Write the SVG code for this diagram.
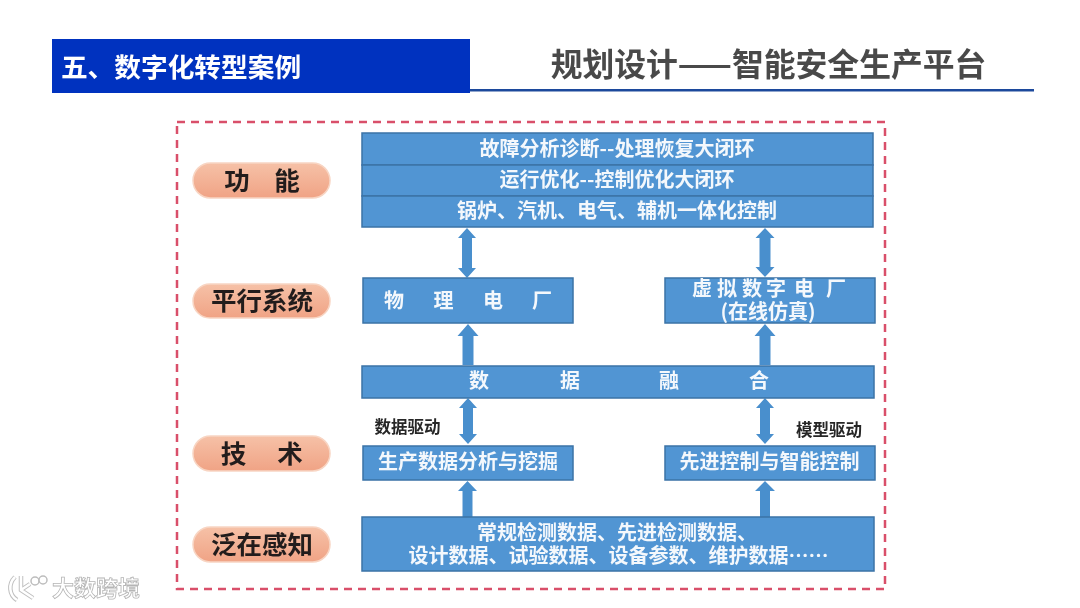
<svg xmlns="http://www.w3.org/2000/svg" width="1080" height="608" viewBox="0 0 1080 608">
<defs>
<linearGradient id="pill" x1="0" y1="0" x2="0" y2="1"><stop offset="0" stop-color="#f6c1a7"/><stop offset="1" stop-color="#f0a385"/></linearGradient>
<filter id="soft" x="0" y="0" width="100%" height="100%" filterUnits="userSpaceOnUse"><feGaussianBlur stdDeviation="0.45"/></filter>
</defs>
<style>
text{font-family:"Noto Sans CJK SC","Noto Sans",sans-serif;text-anchor:middle}
.box{fill:#5195d3;stroke:#3b73a6;stroke-width:1.500}
.w{fill:#f4f8fc;font-size:20px;font-weight:700}
.pill{fill:url(#pill);stroke:#f8d5c3;stroke-width:1.500}
.p{fill:#241f1d;font-size:25.500px;font-weight:700}
.a{fill:#4a8fcd;stroke:none}
.k{fill:#262626;font-size:16.500px;font-weight:700}
</style>
<rect width="1080" height="608" fill="#fff"/>
<g filter="url(#soft)">
<g id="header">
<rect x="52" y="39" width="418" height="54" fill="#0433bf"/>
<rect x="470" y="89" width="564" height="2.500" fill="#1f4a9c"/>
<text x="181" y="77" style="font-size:26.700px;font-weight:700;fill:#fff">五、数字化转型案例</text>
<text x="768.500" y="76" style="font-size:31.800px;font-weight:700;fill:#4a4a4a">规划设计——智能安全生产平台</text>
</g>
<rect id="frame" x="177" y="122" width="708" height="467" fill="none" stroke="#d9506a" stroke-width="2.500" stroke-dasharray="8 6"/>
<g id="connectors">
<path id="c1" class="a" d="M467 228L476 238H472V268H476L467 278L458 268H462V238H458Z"/>
<path id="c2" class="a" d="M765 228L774.500 238H770.500V267H774.500L765 277L755.500 267H759.500V238H755.500Z"/>
<path id="c3" class="a" d="M468 324L478.500 336H473.500V365H462.500V336H457.500Z"/>
<path id="c4" class="a" d="M765 324L775.500 336H770.500V365H759.500V336H754.500Z"/>
<path id="c5" class="a" d="M468 398L477 408H473V434H477L468 444L459 434H463V408H459Z"/>
<path id="c6" class="a" d="M765 398L774 408H770V434H774L765 444L756 434H760V408H756Z"/>
<path id="c7" class="a" d="M467.500 481L477 491H472.500V517H462.500V491H458Z"/>
<path id="c8" class="a" d="M765 481L775 491H770V517H760V491H755Z"/>
</g>
<g id="n-func1"><rect class="box" x="362" y="133" width="511" height="32"/><text class="w" x="617" y="155.500">故障分析诊断--处理恢复大闭环</text></g>
<g id="n-func2"><rect class="box" x="362" y="165" width="511" height="31"/><text class="w" x="617" y="187">运行优化--控制优化大闭环</text></g>
<g id="n-func3"><rect class="box" x="362" y="196" width="511" height="31"/><text class="w" x="617" y="218">锅炉、汽机、电气、辅机一体化控制</text></g>
<g id="n-phys"><rect class="box" x="363" y="278" width="210" height="45"/><text class="w" x="394 443.500 493 542" y="308">物理电厂</text></g>
<g id="n-virt"><rect class="box" x="665" y="278" width="210" height="45"/><text class="w" x="702 727 752 776 804 836" y="296">虚拟数字电厂</text><text class="w" x="768" y="319">(在线仿真)</text></g>
<g id="n-fuse"><rect class="box" x="362" y="366" width="512" height="32"/><text class="w" x="479 570 669 759" y="388">数据融合</text></g>
<g id="n-mine"><rect class="box" x="363" y="446" width="210" height="34"/><text class="w" x="468" y="469">生产数据分析与挖掘</text></g>
<g id="n-ctrl"><rect class="box" x="665" y="446" width="210" height="34"/><text class="w" x="769.500" y="469">先进控制与智能控制</text></g>
<g id="n-sense"><rect class="box" x="362" y="517" width="512" height="54"/><text class="w" x="617" y="540">常规检测数据、先进检测数据、</text><text class="w" x="618.500" y="563">设计数据、试验数据、设备参数、维护数据……</text></g>
<g id="p-func"><rect class="pill" x="193" y="163" width="137" height="35" rx="17.500"/><text class="p" x="237 287" y="190">功能</text></g>
<g id="p-para"><rect class="pill" x="193" y="284" width="137" height="34" rx="17"/><text class="p" x="262" y="310">平行系统</text></g>
<g id="p-tech"><rect class="pill" x="193" y="436" width="137" height="35" rx="17.500"/><text class="p" x="233.500 290" y="463">技术</text></g>
<g id="p-sense"><rect class="pill" x="193" y="527" width="137" height="35" rx="17.500"/><text class="p" x="262" y="554">泛在感知</text></g>
<text class="k" x="407.500" y="433">数据驱动</text>
<text class="k" x="829" y="436">模型驱动</text>
<g id="watermark">
<path d="M15 577C8 584 9 595 17 600M21 576V590L33 598M21 590L30 584" fill="none" stroke="#c0c0c0" stroke-width="4.500"/>
<path d="M15 577C8 584 9 595 17 600M21 576V590L33 598M21 590L30 584" fill="none" stroke="#fff" stroke-width="2.500"/>
<circle cx="35" cy="581" r="4" fill="#fff" stroke="#bdbdbd" stroke-width="1.500"/><circle cx="43" cy="580" r="4" fill="#fff" stroke="#bdbdbd" stroke-width="1.500"/>
<text x="96" y="596" style="font-size:22px;font-weight:700;fill:#fff;stroke:#b5b5b5;stroke-width:.8px">大数跨境</text>
</g>
</g>
</svg>
